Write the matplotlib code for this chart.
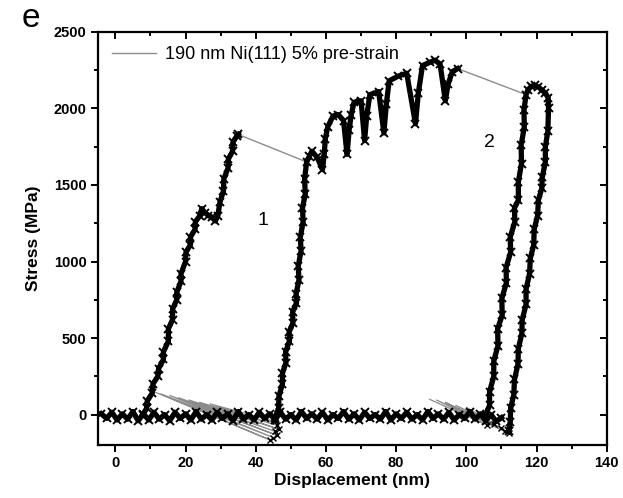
import matplotlib
matplotlib.use('Agg')
import matplotlib.pyplot as plt

plt.rcParams['font.family'] = ['Liberation Sans', 'DejaVu Sans']

# baseline (approach segments) around zero stress
base_x = [-4, -2.5, -1, 0.5, 2, 3.5, 5, 6.5, 8, 9.5, 11, 12.5, 14, 15.5, 17, 18.5, 20, 21.5,
          23, 24.5, 26, 27.5, 29, 30.5, 32, 33.5, 35, 36.5, 38, 39.5, 41, 42.5, 44, 45.5,
          47, 48.5, 50, 51.5, 53, 54.5, 56, 57.5, 59, 60.5, 62, 63.5, 65, 66.5, 68, 69.5,
          71, 72.5, 74, 75.5, 77, 78.5, 80, 81.5, 83, 84.5, 86, 87.5, 89, 90.5, 92, 93.5,
          95, 96.5, 98, 99.5, 101, 102.5, 104, 105.5, 107, 108.5, 110]
base_y = [5, -25, 15, -35, 5, -30, 20, -40, 5, -35, 15, -30, 0, -40, 15, -25, 5, -35,
          20, -30, 0, -35, 15, -25, 5, -40, 20, -30, 0, -35, 15, -25, 5, -35,
          15, -30, 0, -35, 20, -25, 5, -30, 15, -35, 0, -25, 20, -30, 5, -35,
          15, -25, 0, -30, 20, -35, 5, -25, 15, -30, 0, -35, 20, -25, 5, -30,
          15, -35, 0, -25, 20, -30, 5, -40, 0, -45, -20]

# loading 1
load1_x = [7.8, 8.9, 9.1, 10.5, 10.7, 12.1, 12.3, 13.7, 13.7, 15.1, 15.1, 16.3, 16.3, 17.5,
           17.5, 18.7, 18.7, 20.0, 20.1, 21.4, 21.4, 22.7, 22.8, 24.1, 24.6, 25.5, 26.5,
           27.5, 28.5, 29.2, 29.8, 30.8, 30.9, 32.1, 32.2, 33.4, 33.5, 34.6, 35.0]
load1_y = [0, 40, 90, 140, 200, 250, 300, 360, 410, 480, 560, 620, 690, 750,
           800, 870, 920, 1000, 1060, 1110, 1160, 1210, 1260, 1300, 1345, 1320, 1300,
           1290, 1265, 1300, 1390, 1460, 1540, 1610, 1670, 1720, 1780, 1820, 1830]

# reload 2 with serrations
load2_x = [45.5, 46.5, 46.6, 47.6, 47.6, 48.6, 48.5, 49.6, 49.5, 50.6, 50.5, 51.6, 51.5,
           52.3, 52.1, 52.9, 52.7, 53.5, 53.3, 54.1, 53.9, 54.5,
           55.3, 56.0, 57.5, 59.0, 59.5, 59.8, 60.5, 62.0, 63.5, 65.0, 66.0, 66.6, 67.2,
           68.0, 70.0, 71.0, 71.6, 72.5, 75.0, 76.5, 77.2, 78.0, 80.5, 83.0, 85.5, 86.3,
           87.5, 89.5, 91.0, 92.5, 94.0, 94.8, 96.0, 97.5]
load2_y = [-20, 40, 120, 200, 270, 340, 410, 480, 540, 600, 670, 730, 790,
           880, 970, 1070, 1160, 1260, 1350, 1440, 1540, 1650,
           1690, 1720, 1680, 1600, 1700, 1800, 1880, 1950, 1960, 1920, 1700, 1860, 1960,
           2040, 2050, 1790, 1950, 2090, 2110, 1840, 2030, 2180, 2210, 2230, 1900, 2100,
           2280, 2300, 2315, 2290, 2050, 2160, 2240, 2260]

# reload 3 / final unload near 106-123 nm
load3_x = [105.5, 106.6, 106.6, 107.8, 107.8, 109.0, 108.9, 110.2, 110.1, 111.4, 111.3,
           112.6, 112.5, 113.8, 113.7, 114.8, 114.8, 115.7, 115.6, 116.5, 116.4, 117.0,
           117.5, 118.5, 119.5, 120.5, 121.5, 122.5, 123.3, 123.4,
           123.2, 122.5, 122.5, 121.6, 121.5, 120.5, 120.3, 119.3, 119.2, 118.2, 118.0,
           117.0, 117.0, 115.9, 115.8, 114.8, 114.7, 113.7, 113.5, 112.6, 112.5, 112.1]
load3_y = [0, 60, 150, 250, 350, 450, 560, 650, 760, 860, 960,
           1060, 1160, 1260, 1350, 1400, 1520, 1640, 1760, 1880, 1990, 2090,
           2120, 2145, 2150, 2140, 2120, 2100, 2070, 2000,
           1850, 1750, 1650, 1550, 1480, 1400, 1300, 1210, 1110, 1020, 920,
           820, 720, 620, 530, 430, 330, 230, 130, 40, -50, -110]

# sparse unloading points (thin grey connections)
jump1_x = [35.0, 54.5]
jump1_y = [1830, 1650]
jump2_x = [97.5, 117.0]
jump2_y = [2260, 2090]
fan1_x = [11.5, 44.0, 13.0, 45.0, 15.5, 46.0, 18.0, 45.5, 21.0, 46.5, 24.0, 46.0, 27.0, 45.5]
fan1_y = [145, -165, 135, -150, 125, -135, 110, -110, 95, -95, 80, -70, 70, -45]
fan2_x = [89.5, 106.0, 91.5, 111.0, 94.0, 112.0, 97.0, 108.0, 100.0, 110.0]
fan2_y = [100, -70, 95, -110, 80, -120, 60, -60, 45, -90]

fig = plt.figure(figsize=(6.23, 4.98), dpi=100)
ax = fig.add_axes([0.157, 0.106, 0.817, 0.830])

grey = '#8c8c8c'
ax.plot(jump1_x, jump1_y, color=grey, lw=1.0, label='190 nm Ni(111) 5% pre-strain')
ax.plot(jump2_x, jump2_y, color=grey, lw=1.0)
ax.plot(fan1_x, fan1_y, color=grey, lw=0.9, marker='x', ms=4, mec='k', mew=1,
        markevery=slice(1, None, 2))
ax.plot(fan2_x, fan2_y, color=grey, lw=0.9, marker='x', ms=4, mec='k', mew=1,
        markevery=slice(1, None, 2))

for xs, ys in [(base_x, base_y), (load1_x, load1_y), (load2_x, load2_y), (load3_x, load3_y)]:
    ax.plot(xs, ys, color='k', lw=3.8, marker='x', ms=5.5, mew=1.4)

ax.set_xlim(-5, 140)
ax.set_ylim(-200, 2500)
ax.set_xticks(range(0, 141, 20))
ax.set_xticks(range(-0, 141, 10), minor=True)
ax.set_yticks(range(0, 2501, 500))
ax.set_yticks(range(0, 2501, 250), minor=True)

for s in ax.spines.values():
    s.set_linewidth(1.6)
ax.tick_params(which='both', width=1.4, labelsize=10.5, pad=3)
ax.tick_params(which='major', length=5)
ax.tick_params(which='minor', length=3)
ax.tick_params(which='both', top=True, right=True)
for lab in ax.get_xticklabels() + ax.get_yticklabels():
    lab.set_fontweight('bold')

# origin-style: outer ticks on left/bottom, inner on top/right
for t in ax.xaxis.get_major_ticks() + ax.xaxis.get_minor_ticks():
    t.tick1line.set_marker(3)
    t.tick2line.set_marker(3)
for t in ax.yaxis.get_major_ticks() + ax.yaxis.get_minor_ticks():
    t.tick1line.set_marker(0)
    t.tick2line.set_marker(0)

ax.set_xlabel('Displacement (nm)', fontsize=12.5, fontweight='bold', labelpad=2)
ax.set_ylabel('Stress (MPa)', fontsize=12.5, fontweight='bold', labelpad=9)

ax.legend(loc='upper left', frameon=False, fontsize=13, handlelength=2.4,
          handletextpad=0.5, borderaxespad=0.4)

ax.text(42, 1268, '1', fontsize=14, ha='center', va='center')
ax.text(106.5, 1778, '2', fontsize=14, ha='center', va='center')
fig.text(0.035, 0.946, 'e', fontsize=24, va='baseline')

fig.savefig('out.png', dpi=100, facecolor='white')
